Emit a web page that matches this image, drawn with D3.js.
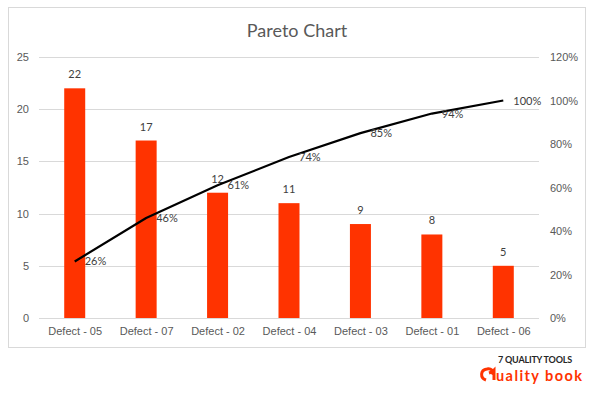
<!DOCTYPE html>
<html>
<head>
<meta charset="utf-8">
<script src="https://cdn.jsdelivr.net/npm/d3@7"></script>
<style>
  body { margin: 0; background: #fff; }
  svg { display: block; font-family: Lato, "Open Sans", sans-serif; }
</style>
</head>
<body>
<svg width="598" height="397"></svg>
<script>
// chart data
let categories = ["Defect - 05", "Defect - 07", "Defect - 02", "Defect - 04", "Defect - 03", "Defect - 01", "Defect - 06"];
let counts = [22, 17, 12, 11, 9, 8, 5];
let cumPercent = [26, 46, 61, 74, 85, 94, 100];
let leftTicks = [0, 5, 10, 15, 20, 25];
let rightTicks = [0, 20, 40, 60, 80, 100, 120];

let svg = d3.select("svg");

let plot = { left: 39, right: 539, top: 57, bottom: 318 };

// outer chart border
svg.append("rect")
    .attr("x", 8.5).attr("y", 7.5)
    .attr("width", 577).attr("height", 340)
    .attr("fill", "#fff")
    .attr("stroke", "#d9d9d9");

svg.append("text")
    .attr("x", 297).attr("y", 37)
    .attr("text-anchor", "middle")
    .attr("font-size", 18)
    .attr("fill", "#595959")
    .text("Pareto Chart");

let xc = d3.scalePoint()
    .domain(categories)
    .range([plot.left, plot.right])
    .padding(0.5);

let yL = d3.scaleLinear().domain([0, 25]).range([plot.bottom, plot.top]);
let yR = d3.scaleLinear().domain([0, 120]).range([plot.bottom, plot.top]);

// gridlines
svg.append("g")
    .selectAll("line")
    .data(leftTicks)
    .enter().append("line")
    .attr("x1", plot.left).attr("x2", plot.right)
    .attr("y1", function (d) { return Math.round(yL(d)) + 0.5; })
    .attr("y2", function (d) { return Math.round(yL(d)) + 0.5; })
    .attr("stroke", "#d9d9d9");

// left axis
let leftAxis = svg.append("g")
    .attr("transform", "translate(" + (plot.left - 10) + ",0)")
    .call(d3.axisLeft(yL).tickValues(leftTicks).tickSize(0).tickPadding(0));
leftAxis.select(".domain").remove();
leftAxis.selectAll("text").attr("font-size", 11).attr("fill", "#595959").attr("font-family", null);

// right axis
let rightAxis = svg.append("g")
    .attr("transform", "translate(" + (plot.right + 11) + ",0)")
    .call(d3.axisRight(yR).tickValues(rightTicks).tickSize(0).tickPadding(0)
        .tickFormat(function (d) { return d + "%"; }));
rightAxis.select(".domain").remove();
rightAxis.selectAll("text").attr("font-size", 11).attr("fill", "#595959").attr("font-family", null);

// category axis
let bottomAxis = svg.append("g")
    .attr("transform", "translate(0," + (plot.bottom + 9) + ")")
    .call(d3.axisBottom(xc).tickSize(0).tickPadding(0));
bottomAxis.select(".domain").remove();
bottomAxis.selectAll("text").attr("font-size", 11).attr("fill", "#595959").attr("font-family", null);

// bars
svg.append("g")
    .selectAll("rect")
    .data(counts)
    .enter().append("rect")
    .attr("x", function (d, i) { return xc(categories[i]) - 10.5; })
    .attr("width", 21)
    .attr("y", function (d) { return yL(d); })
    .attr("height", function (d) { return yL(0) - yL(d); })
    .attr("fill", "#ff3300");

svg.append("g")
    .selectAll("text")
    .data(counts)
    .enter().append("text")
    .attr("x", function (d, i) { return xc(categories[i]); })
    .attr("y", function (d) { return yL(d) - 10; })
    .attr("text-anchor", "middle")
    .attr("font-size", 11)
    .attr("fill", "#404040")
    .text(function (d) { return d; });

// cumulative line
let line = d3.line()
    .x(function (d, i) { return xc(categories[i]); })
    .y(function (d) { return yR(d); });

svg.append("path")
    .datum(cumPercent)
    .attr("d", line)
    .attr("fill", "none")
    .attr("stroke", "#000")
    .attr("stroke-width", 2.2)
    .attr("stroke-linejoin", "round");

svg.append("g")
    .selectAll("text")
    .data(cumPercent)
    .enter().append("text")
    .attr("x", function (d, i) { return xc(categories[i]) + 10; })
    .attr("y", function (d) { return yR(d) + 4; })
    .attr("font-size", 11)
    .attr("fill", "#404040")
    .text(function (d) { return d + "%"; });

// logo
let logo = svg.append("g");
logo.append("text")
    .attr("x", 535).attr("y", 363)
    .attr("text-anchor", "middle")
    .attr("font-size", 9)
    .attr("font-weight", "bold")
    .attr("fill", "#262626")
    .attr("letter-spacing", -0.2)
    .text("7 QUALITY TOOLS");
logo.append("path")
    .attr("d", "M486,380 C480,378 480,370 487,369 C491,368 494,371 493,375 M489,373 L492,372 L494,370 L494,380")
    .attr("fill", "none")
    .attr("stroke", "#ff3300")
    .attr("stroke-width", 3);
logo.append("text")
    .attr("x", 496).attr("y", 381)
    .attr("font-size", 14.5)
    .attr("font-weight", "bold")
    .attr("fill", "#ff3300")
    .attr("textLength", 86)
    .attr("lengthAdjust", "spacing")
    .text("uality book");
</script>
</body>
</html>
